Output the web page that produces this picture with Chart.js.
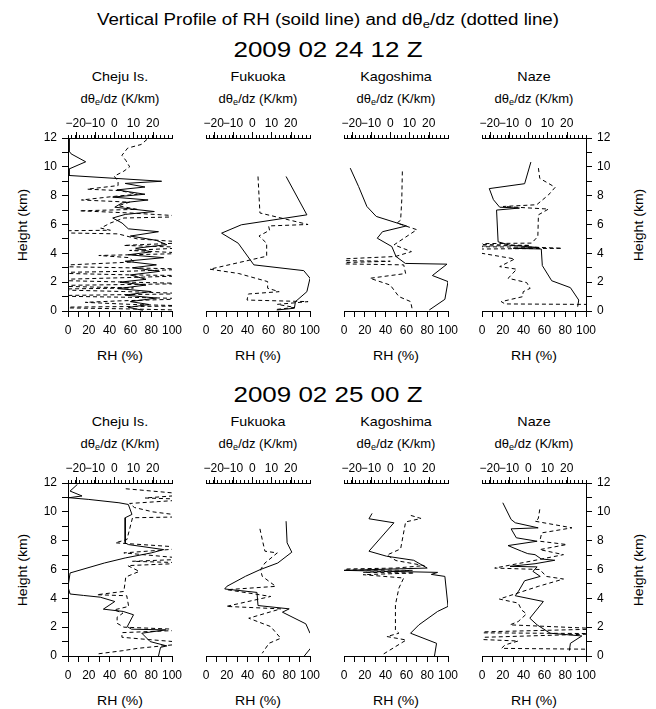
<!DOCTYPE html>
<html>
<head>
<meta charset="utf-8">
<script src="https://cdn.jsdelivr.net/npm/chart.js@4.4.0/dist/chart.umd.min.js"></script>
<style>
  body { margin: 0; background: #fff; font-family: "Liberation Sans", Arial, sans-serif; color: #000; }
  #page { position: relative; width: 656px; height: 709px; overflow: hidden; }
  .t { position: absolute; white-space: nowrap; line-height: 1; }
  sub { font-size: 70%; vertical-align: -0.3em; line-height: 0; }
  canvas { position: absolute; }
</style>
</head>
<body>
<div id="page"></div>
<script>
// tick labels
const rhTicks = [0, 20, 40, 60, 80, 100];
const dthTicks = [-20, -10, 0, 10, 20];
const heightTicks = [0, 2, 4, 6, 8, 10, 12];
const stations = ['Cheju Is.', 'Fukuoka', 'Kagoshima', 'Naze'];
const times = ['2009 02 24 12 Z', '2009 02 25 00 Z'];

// 2009 02 24 12Z
const chejuAHgt = [12.0, 11.1, 10.9, 10.35, 9.85, 9.4, 9.0, 8.85, 8.6, 8.4, 8.1, 7.9, 7.7, 7.5, 7.2, 6.9, 6.7, 6.45, 6.1, 5.7, 5.5, 5.2, 4.9, 4.6, 4.35, 4.1, 3.9, 3.7, 3.45, 3.2, 3.0, 2.75, 2.5, 2.2, 2.0, 1.8, 1.55, 1.35, 1.1, 0.9, 0.65, 0.45, 0.25, 0.05];
const chejuARh = [1, 1, 3, 17, 1, 1, 90, 55, 74, 47, 74, 43, 77, 52, 45, 83, 55, 43, 52, 58, 87, 60, 85, 95, 65, 80, 58, 92, 55, 85, 62, 88, 60, 75, 50, 75, 48, 80, 55, 85, 60, 78, 58, 72];
const chejuADHgt = [11.9, 11.55, 11.3, 10.8, 10.45, 10.0, 9.7, 9.35, 9.0, 8.7, 8.45, 8.35, 8.1, 7.95, 7.7, 7.55, 7.3, 7.05, 6.95, 6.8, 6.55, 6.45, 6.1, 5.75, 5.6, 5.55, 5.45, 5.35, 5.0, 4.75, 4.55, 4.4, 4.2, 4.0, 3.85, 3.7, 3.4, 3.1, 3.0, 2.9, 2.75, 2.65, 2.5, 2.45, 2.3, 2.15, 2.0, 1.9, 1.75, 1.6, 1.5, 1.35, 1.2, 1.05, 0.95, 0.85, 0.7, 0.6, 0.45, 0.35, 0.25, 0.15, 0.05];
const chejuADth = [17, 14, 7, 4, 6, 8, 5, 0, 2, 2, -14, 3, 12, 0, -17, 8, 2, 12, -18, 8, 40, 5, -2, -7, -2, -40, -40, 2, 12, 40, 5, 40, 8, 40, -8, 8, 10, -40, 6, 40, 5, -40, 10, 40, 2, -40, 8, 40, -40, 10, -40, 5, 40, -40, 8, 40, 2, -15, 10, 40, -40, 5, 40];

const fukuokaAHgt = [9.33, 6.67, 5.98, 5.4, 4.7, 3.2, 2.8, 2.27, 1.34, 0.65, 0.19, 0.07];
const fukuokaARh = [77, 97, 34, 15, 31, 46, 94, 100, 97, 86, 85, 68];
const fukuokaADHgt = [9.33, 6.8, 6.0, 5.9, 5.6, 5.2, 4.7, 3.8, 2.9, 2.6, 2.04, 1.58, 1.34, 1.18, 0.76, 0.65, 0.46, 0.25, 0.1];
const fukuokaADth = [3, 4, 29, 8.5, 9, 3.5, 7.5, 7.5, -22, -7, 8, 8, 14, -2, -2.7, 29, 13, 22, 12];

const kagoshimaAHgt = [9.91, 8.64, 7.25, 6.56, 5.9, 5.5, 5.05, 4.47, 3.78, 3.3, 3.25, 2.46, 2.04, 0.81, 0.07];
const kagoshimaARh = [6, 14, 22, 31, 60, 37, 32, 46, 50, 59, 99, 85, 100, 97, 82];
const kagoshimaADHgt = [9.68, 7.7, 6.3, 6.1, 5.64, 4.59, 4.12, 3.78, 3.52, 3.45, 3.3, 3.2, 2.6, 2.27, 1.8, 1.0, 0.65, 0.07];
const kagoshimaADth = [6.3, 6, 5.4, 3.5, 13.8, 2, 11, 2.7, -40, 0, -40, 7, 8, -10.5, 0, 4.5, 10.6, 11.5];

const nazeAHgt = [10.33, 8.83, 8.49, 7.72, 7.2, 7.14, 7.0, 4.8, 4.56, 4.4, 4.35, 4.3, 3.15, 2.1, 1.62, 0.76, 0.3];
const nazeARh = [47, 41, 7, 11, 17, 36, 14, 15.5, 27, 55, 30, 57, 58, 67, 85, 93, 92];
const nazeADHgt = [9.91, 9.2, 8.58, 8.05, 7.37, 7.25, 7.07, 6.67, 5.17, 4.71, 4.65, 4.55, 4.48, 4.42, 4.35, 4.28, 4.0, 3.61, 3.08, 2.9, 2.27, 1.97, 1.57, 1.34, 0.99, 0.76, 0.65, 0.49, 0.45];
const nazeADth = [5.3, 6, 14, 10.5, 4.4, -13, 10.5, 5.3, 5, 1.8, -40, 1, -40, 4, 17.5, -40, -24, -7, -14.8, -6, -10.4, -0.8, 1, -2.6, -3, -10.4, -14, -12, 40];

// 2009 02 25 00Z
const chejuBHgt = [11.9, 11.44, 11.1, 10.98, 10.86, 10.63, 10.51, 9.82, 9.59, 7.85, 7.73, 7.38, 7.15, 6.8, 6.45, 5.76, 4.8, 4.3, 4.2, 4.08, 3.78, 3.25, 3.09, 2.86, 2.04, 1.86, 1.81, 1.58, 1.0, 0.7, 0.6, 0.0];
const chejuBRh = [9, 2, 13.5, 1, 20, 49, 58, 61.5, 55, 55, 58, 92, 80, 55, 35, 2, 0, 2, 15, 31, 45, 34, 53, 63, 57, 61, 94, 71, 79, 95, 89, 87];
const chejuBDHgt = [11.6, 11.2, 10.96, 10.86, 10.58, 10.3, 10.0, 9.66, 9.59, 8.08, 7.85, 7.5, 7.15, 6.73, 6.57, 6.45, 6.27, 5.87, 5.48, 4.48, 4.25, 4.18, 3.44, 3.2, 2.97, 2.69, 2.27, 2.0, 1.81, 1.62, 1.3, 1.16, 0.9, 0.53, 0.37, 0.14];
const chejuBDth = [6, 40, 16, 40, 8, 10.5, 20, 40, 9.5, 6.6, 0.6, 40, 5, 40, 9.5, 40, 7, 13, 6, 5, -9, 6.5, 7.5, 0, 4.5, 1.5, 1.5, 5, 40, 4, 4, 16, 40, 12, 4.5, -9];

const fukuokaBHgt = [9.35, 7.85, 7.2, 6.45, 5.99, 5.53, 4.83, 4.65, 4.41, 3.5, 3.27, 3.04, 2.23, 1.58, 1.2, 0.0];
const fukuokaBRh = [77, 78, 82.5, 69, 52, 38, 20, 18, 49, 50, 80, 73.5, 96, 100, 108, 94.5];
const fukuokaBDHgt = [8.82, 8.08, 7.27, 7.15, 6.45, 5.99, 5.53, 4.83, 4.6, 4.13, 3.44, 3.27, 2.62, 2.04, 1.23, 0.88, 0.19];
const fukuokaBDth = [4, 5.2, 6.6, 13, 6.6, 4.3, 5.2, 12.2, -13.2, 9.6, -13.5, 14.8, -1.8, 9.6, 14.8, 8.7, 5.2];

const kagoshimaBHgt = [9.89, 9.52, 9.24, 7.27, 6.92, 6.64, 6.1, 5.94, 5.8, 5.66, 5.52, 3.44, 3.09, 2.16, 1.58, 0.88, 0.0];
const kagoshimaBRh = [27, 24, 48, 24, 41, 67, 80, 0, 90, 84, 97, 100, 90, 72, 64, 89, 87];
const kagoshimaBDHgt = [9.75, 9.54, 9.3, 7.43, 7.0, 6.62, 6.27, 6.1, 5.99, 5.94, 5.8, 5.76, 5.64, 5.41, 4.71, 3.55, 1.81, 1.58, 1.35, 1.11, 0.07];
const kagoshimaBDth = [10.7, 16, 8, 5.4, -1.7, 3, 17.7, 3, -40, 11.5, -14, 12.5, -14, 7, 4.5, 2.7, 2.7, 4.5, -1.7, 8.3, -4.3];

const nazeBHgt = [10.63, 9.47, 9.24, 8.89, 8.82, 8.2, 7.96, 7.66, 7.27, 7.1, 7.03, 6.73, 6.64, 6.4, 6.22, 6.18, 5.87, 5.52, 5.22, 4.48, 4.18, 3.78, 2.62, 2.16, 1.58, 1.39, 0.88, 0.37];
const nazeBRh = [20, 28, 32, 54, 28, 33, 53, 25, 38, 44, 51, 57, 70, 51, 27, 53, 49, 56, 41, 35, 32, 59, 46, 53, 65.5, 96, 85, 84];
const nazeBDHgt = [10.17, 9.52, 9.35, 8.89, 8.54, 7.96, 7.73, 7.38, 7.03, 6.57, 6.1, 6.0, 5.52, 5.34, 4.83, 3.95, 3.67, 3.2, 2.92, 2.39, 2.16, 1.88, 1.62, 1.55, 1.23, 1.04, 0.77, 0.53, 0.46];
const nazeBDth = [6, 5.2, 3.5, 22.7, 7, 6, 20, 6, 18.3, 1, -17.4, 6, 9.4, 18.3, 5.2, -15, -5.2, -3.5, -0.9, -5.2, -9.5, 40, -40, 40, -40, -5.2, -12, -13.9, 40];

// layout (px)
const PLOT_LEFT = [68, 206, 344, 482];
const PLOT_W = 104;
const ROW_TOP = [138, 483];
const PLOT_H = 173;
const YW = 34, TOPH = 22, BOTH = 28;
const MARGIN_X = 40, MARGIN_T = 26, MARGIN_B = 34;

const panels = [
    { row: 0, col: 0, h: chejuAHgt, rh: chejuARh, dh: chejuADHgt, dth: chejuADth },
    { row: 0, col: 1, h: fukuokaAHgt, rh: fukuokaARh, dh: fukuokaADHgt, dth: fukuokaADth },
    { row: 0, col: 2, h: kagoshimaAHgt, rh: kagoshimaARh, dh: kagoshimaADHgt, dth: kagoshimaADth },
    { row: 0, col: 3, h: nazeAHgt, rh: nazeARh, dh: nazeADHgt, dth: nazeADth },
    { row: 1, col: 0, h: chejuBHgt, rh: chejuBRh, dh: chejuBDHgt, dth: chejuBDth },
    { row: 1, col: 1, h: fukuokaBHgt, rh: fukuokaBRh, dh: fukuokaBDHgt, dth: fukuokaBDth },
    { row: 1, col: 2, h: kagoshimaBHgt, rh: kagoshimaBRh, dh: kagoshimaBDHgt, dth: kagoshimaBDth },
    { row: 1, col: 3, h: nazeBHgt, rh: nazeBRh, dh: nazeBDHgt, dth: nazeBDth }
];

Chart.defaults.font.family = '"Liberation Sans", Arial, sans-serif';
Chart.defaults.color = '#000';

const page = document.getElementById('page');

// text is a little wider than Liberation Sans in the original, so stretch it
function addText(html, x, y, size, sx, rot) {
    const d = document.createElement('div');
    d.className = 't';
    d.style.left = x + 'px';
    d.style.top = y + 'px';
    d.style.fontSize = size + 'px';
    d.style.transform = 'translate(-50%, -50%)' + (rot ? ' rotate(-90deg)' : '') + ' scaleX(' + sx + ')';
    d.innerHTML = html;
    page.appendChild(d);
}

function minus(v) {
    return v < 0 ? '\u2212' + Math.abs(v) : String(v);
}

// longer ticks on the top axis at the labelled values
const majorTicks = {
    id: 'majorTicks',
    afterDraw(chart) {
        const s = chart.scales.x2;
        const ctx = chart.ctx;
        ctx.save();
        ctx.strokeStyle = '#000';
        ctx.lineWidth = 1;
        dthTicks.forEach(v => {
            const px = Math.round(s.getPixelForValue(v)) + 0.5;
            ctx.beginPath();
            ctx.moveTo(px, s.bottom);
            ctx.lineTo(px, s.bottom - 6);
            ctx.stroke();
        });
        ctx.restore();
    }
};

addText('Vertical Profile of RH (soild line) and d&theta;<sub>e</sub>/dz (dotted line)', 328, 20, 16, 1.17);

times.forEach((t, r) => {
    const top = ROW_TOP[r];
    addText(t, 328, top - 88, 22, 1.18);
    stations.forEach((s, c) => {
        const cx = PLOT_LEFT[c] + PLOT_W / 2;
        addText(s, cx, top - 62, 13, 1.1);
        addText('d&theta;<sub>e</sub>/dz (K/km)', cx, top - 40, 13, 1.0);
        addText('RH (%)', cx, top + PLOT_H + 44, 13, 1.08);
    });
    addText('Height (km)', 22, top + PLOT_H / 2, 13, 1.08, true);
    addText('Height (km)', 638, top + PLOT_H / 2, 13, 1.08, true);
});

panels.forEach(p => {
    const cv = document.createElement('canvas');
    const w = MARGIN_X * 2 + PLOT_W;
    const h = MARGIN_T + PLOT_H + MARGIN_B;
    cv.width = w; cv.height = h;
    cv.style.width = w + 'px'; cv.style.height = h + 'px';
    cv.style.left = (PLOT_LEFT[p.col] - MARGIN_X) + 'px';
    cv.style.top = (ROW_TOP[p.row] - MARGIN_T) + 'px';
    page.appendChild(cv);

    const showY = p.col === 0 || p.col === 3;
    const yRight = p.col === 3;

    new Chart(cv, {
        type: 'scatter',
        data: {
            datasets: [
                {
                    label: 'RH',
                    data: p.h.map((v, i) => ({ x: p.rh[i], y: v })),
                    showLine: true,
                    borderColor: '#000',
                    borderWidth: 1,
                    pointRadius: 0,
                    xAxisID: 'x',
                    yAxisID: 'y'
                },
                {
                    label: 'dthetae/dz',
                    data: p.dh.map((v, i) => ({ x: p.dth[i], y: v })),
                    showLine: true,
                    borderColor: '#000',
                    borderWidth: 1,
                    borderDash: [4, 3],
                    pointRadius: 0,
                    xAxisID: 'x2',
                    yAxisID: 'y'
                }
            ]
        },
        options: {
            responsive: false,
            animation: false,
            events: [],
            layout: {
                padding: {
                    left: MARGIN_X - (showY && !yRight ? YW : 0),
                    right: MARGIN_X - (showY && yRight ? YW : 0),
                    top: MARGIN_T - TOPH,
                    bottom: MARGIN_B - BOTH
                }
            },
            plugins: { legend: { display: false }, tooltip: { enabled: false } },
            scales: {
                x: {
                    type: 'linear', position: 'bottom', min: 0, max: 100,
                    border: { display: true, color: '#000', width: 1 },
                    grid: { drawOnChartArea: false, drawTicks: true, tickLength: 6, tickColor: '#000' },
                    ticks: {
                        stepSize: 10, autoSkip: false, maxRotation: 0, padding: 6,
                        font: { size: 12 },
                        callback: v => rhTicks.includes(v) ? String(v) : ''
                    },
                    afterFit: s => { s.height = BOTH; s.paddingLeft = 0; s.paddingRight = 0; }
                },
                x2: {
                    type: 'linear', position: 'top', min: -24, max: 30,
                    border: { display: true, color: '#000', width: 1 },
                    grid: { drawOnChartArea: false, drawTicks: true, tickLength: 3, tickColor: '#000' },
                    ticks: {
                        stepSize: 2, autoSkip: false, maxRotation: 0, padding: 4,
                        font: { size: 12 },
                        callback: v => dthTicks.includes(v) ? minus(v) : ''
                    },
                    afterFit: s => { s.height = TOPH; s.paddingLeft = 0; s.paddingRight = 0; }
                },
                y: {
                    type: 'linear', position: yRight ? 'right' : 'left', min: 0, max: 12,
                    display: showY,
                    border: { display: true, color: '#000', width: 1 },
                    grid: { drawOnChartArea: false, drawTicks: true, tickLength: 6, tickColor: '#000' },
                    ticks: {
                        stepSize: 1, autoSkip: false, padding: 5,
                        font: { size: 12 },
                        callback: v => heightTicks.includes(v) ? String(v) : ''
                    },
                    afterFit: s => { s.width = showY ? YW : 0; s.paddingTop = 0; s.paddingBottom = 0; }
                }
            }
        },
        plugins: [majorTicks]
    });
});
</script>
</body>
</html>
